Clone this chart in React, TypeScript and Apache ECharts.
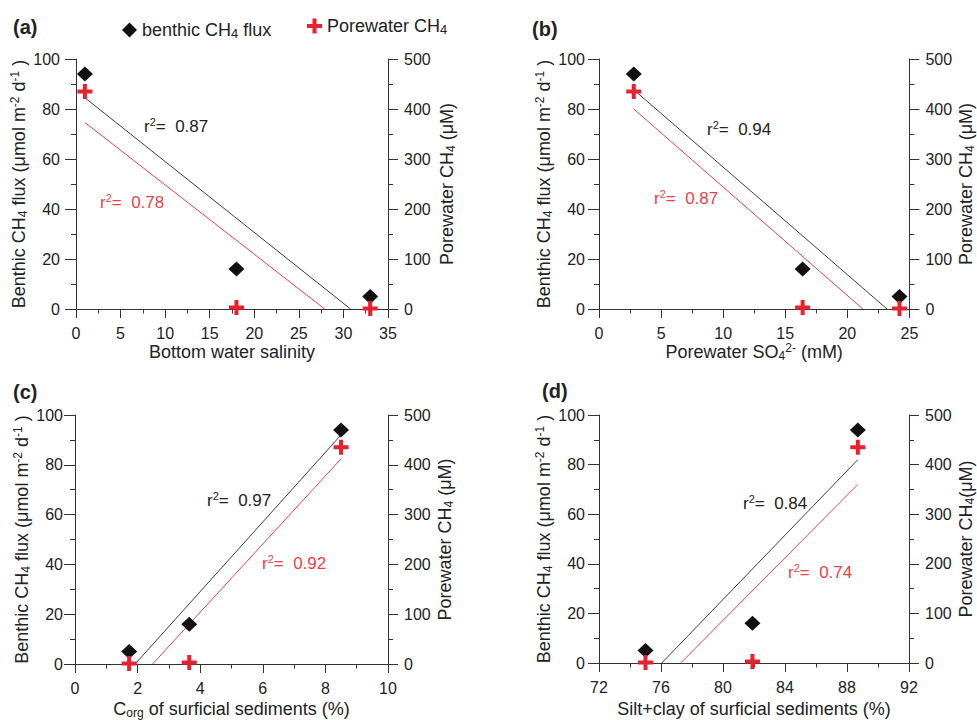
import React, { useEffect, useRef } from "react";
import * as echarts from "echarts";

// ---- data (site order: S1, S2, S3) ----
const benthicFlux = [94, 16, 5]; // µmol m-2 d-1 (left axis)
const porewaterCH4 = [435, 3, 1]; // µM (right axis)
const bottomSalinity = [1, 18, 33];
const porewaterSO4 = [2.8, 16.4, 24.2];
const corg = [8.5, 3.65, 1.73];
const siltClay = [88.7, 81.9, 75];

// regression lines (end points)
const fitFluxA = [[1, 84.5], [30.8, 0]];
const fitPwA = [[1, 373], [27.9, 0]];
const fitFluxB = [[2.8, 87.7], [23.2, 0]];
const fitPwB = [[2.8, 400], [21.25, 0]];
const fitFluxC = [[1.92, 0], [8.5, 92]];
const fitPwC = [[2.48, 0], [8.5, 412]];
const fitFluxD = [[76.05, 0], [88.7, 82]];
const fitPwD = [[77.27, 0], [88.7, 360]];

const r2Flux = ["0.87", "0.94", "0.97", "0.84"];
const r2Pw = ["0.78", "0.87", "0.92", "0.74"];
const panelLetters = ["(a)", "(b)", "(c)", "(d)"];

const xMin = [0, 0, 0, 72];
const xMax = [35, 25, 10, 92];
const xInterval = [5, 5, 2, 4];
const xNames = [
  "Bottom water salinity",
  "Porewater SO{sub|4}{sup|2-} (mM)",
  "C{sub|org} of surficial sediments (%)",
  "Silt+clay of surficial sediments (%)",
];
const rightNames = [
  "Porewater CH{sub|4} (μM)",
  "Porewater CH{sub|4} (μM)",
  "Porewater CH{sub|4} (μM)",
  "Porewater CH{sub|4}(μM)",
];
const leftName = "Benthic CH{sub|4} flux (μmol m{sup|-2} d{sup|-1} )";

const LEFT_MAX = [0, 100];
const RIGHT_MAX = [0, 500];

const PLUS = "path://M5.5,0h4v5.5h5.5v4h-5.5v5.5h-4v-5.5h-5.5v-4h5.5z";
const BLACK = "#111";
const RED = "#e82030";
const RED_LINE = "#ee3f48";
const AXIS = "#333";
const TEXT = "#222";
const FONT = '"Liberation Sans", Arial, Helvetica, sans-serif';

const xsList = [bottomSalinity, porewaterSO4, corg, siltClay];
const fitFlux = [fitFluxA, fitFluxB, fitFluxC, fitFluxD];
const fitPw = [fitPwA, fitPwB, fitPwC, fitPwD];

// layout
const grids = [
  { left: 76, top: 59, width: 312, height: 250 },
  { left: 599, top: 59, width: 313, height: 250 },
  { left: 75, top: 415, width: 313, height: 250 },
  { left: 599, top: 415, width: 313, height: 249 },
];
const leftLabelMargin = [16, 14, 12, 14];
const leftNameGap = [41, 39, 40, 39];
const rightNameGap = [49, 45, 47, 47];
const xNameGap = [33, 32, 35, 36];
const letterPos = [
  [13, 27],
  [532, 29],
  [13, 392],
  [542, 391],
];
const r2FluxPos = [
  [144, 126],
  [707, 129],
  [207, 500],
  [743, 503],
];
const r2PwPos = [
  [100, 202],
  [654, 198],
  [262, 563],
  [788, 572],
];

const rich = {
  sub: { fontSize: 12, verticalAlign: "bottom", lineHeight: 12, fontFamily: FONT, color: TEXT },
  sup: { fontSize: 12, verticalAlign: "top", lineHeight: 12, fontFamily: FONT, color: TEXT },
};
const nameStyle = { fontSize: 18, color: TEXT, fontFamily: FONT, lineHeight: 20, rich };

function makeOption() {
  const xAxis = grids.map((_, i) => ({
    gridIndex: i,
    type: "value",
    min: xMin[i],
    max: xMax[i],
    interval: xInterval[i],
    name: xNames[i],
    nameLocation: "middle",
    nameGap: xNameGap[i],
    nameTextStyle: nameStyle,
    axisLine: { onZero: false, lineStyle: { color: AXIS, width: 1 } },
    axisTick: { length: 9, lineStyle: { color: AXIS } },
    minorTick: { show: true, splitNumber: 2, length: 4.5, lineStyle: { color: AXIS } },
    axisLabel: { margin: 16, fontSize: 16, color: TEXT, fontFamily: FONT },
    splitLine: { show: false },
    minorSplitLine: { show: false },
  }));
  const yAxis: any[] = [];
  grids.forEach((_, i) => {
    yAxis.push({
      gridIndex: i,
      type: "value",
      position: "left",
      min: LEFT_MAX[0],
      max: LEFT_MAX[1],
      interval: 20,
      name: leftName,
      nameLocation: "middle",
      nameGap: leftNameGap[i],
      nameTextStyle: nameStyle,
      axisLine: { show: true, lineStyle: { color: AXIS, width: 1 } },
      axisTick: { show: true, length: 11, lineStyle: { color: AXIS } },
      minorTick: { show: true, splitNumber: 2, length: 5, lineStyle: { color: AXIS } },
      axisLabel: { margin: leftLabelMargin[i], fontSize: 16, color: TEXT, fontFamily: FONT },
      splitLine: { show: false },
    });
    yAxis.push({
      gridIndex: i,
      type: "value",
      position: "right",
      min: RIGHT_MAX[0],
      max: RIGHT_MAX[1],
      interval: 100,
      name: rightNames[i],
      nameLocation: "middle",
      nameGap: rightNameGap[i],
      nameTextStyle: nameStyle,
      axisLine: { show: true, lineStyle: { color: AXIS, width: 1 } },
      axisTick: { show: true, length: 10, lineStyle: { color: AXIS } },
      minorTick: { show: true, splitNumber: 2, length: 5, lineStyle: { color: AXIS } },
      axisLabel: { margin: 16, fontSize: 16, color: TEXT, fontFamily: FONT },
      splitLine: { show: false },
    });
  });

  const series: any[] = [];
  grids.forEach((_, i) => {
    const xs = xsList[i];
    series.push({
      type: "line",
      xAxisIndex: i,
      yAxisIndex: 2 * i,
      data: fitFlux[i],
      symbol: "none",
      lineStyle: { color: "#3c3c3c", width: 1 },
      itemStyle: { color: "#3c3c3c" },
      z: 2,
    });
    series.push({
      type: "line",
      xAxisIndex: i,
      yAxisIndex: 2 * i + 1,
      data: fitPw[i],
      symbol: "none",
      lineStyle: { color: RED_LINE, width: 1 },
      itemStyle: { color: RED_LINE },
      z: 2,
    });
    series.push({
      name: "benthic CH4 flux",
      type: "scatter",
      xAxisIndex: i,
      yAxisIndex: 2 * i,
      data: xs.map((x, k) => [x, benthicFlux[k]]),
      symbol: "diamond",
      symbolSize: [16, 15],
      itemStyle: { color: BLACK, opacity: 1 },
      clip: false,
      z: 3,
    });
    series.push({
      name: "Porewater CH4",
      type: "scatter",
      xAxisIndex: i,
      yAxisIndex: 2 * i + 1,
      data: xs.map((x, k) => [x, porewaterCH4[k]]),
      symbol: PLUS,
      symbolSize: 15,
      itemStyle: { color: RED, opacity: 1 },
      clip: false,
      z: 4,
    });
  });

  const legendText = {
    fontSize: 18,
    color: TEXT,
    fontFamily: FONT,
    lineHeight: 20,
    rich: { sub: { fontSize: 13, verticalAlign: "bottom", lineHeight: 12, color: TEXT, fontFamily: FONT } },
  };
  const legendFmt = (n: string) =>
    n === "benthic CH4 flux" ? "benthic CH{sub|4} flux" : "Porewater CH{sub|4}";

  const graphic: any[] = [];
  grids.forEach((_, i) => {
    graphic.push({
      type: "text",
      x: letterPos[i][0],
      y: letterPos[i][1],
      style: {
        text: panelLetters[i],
        font: `bold 20px ${FONT}`,
        fill: TEXT,
        verticalAlign: "middle",
      },
    });
    graphic.push({
      type: "text",
      x: r2FluxPos[i][0],
      y: r2FluxPos[i][1],
      style: {
        text: `r{s|2}=  ${r2Flux[i]}`,
        font: `17px ${FONT}`,
        fill: TEXT,
        verticalAlign: "middle",
        lineHeight: 20,
        rich: { s: { fontSize: 11, verticalAlign: "top", lineHeight: 12, fill: TEXT, fontFamily: FONT } },
      },
    });
    graphic.push({
      type: "text",
      x: r2PwPos[i][0],
      y: r2PwPos[i][1],
      style: {
        text: `r{s|2}=  ${r2Pw[i]}`,
        font: `17px ${FONT}`,
        fill: RED_LINE,
        verticalAlign: "middle",
        lineHeight: 20,
        rich: { s: { fontSize: 11, verticalAlign: "top", lineHeight: 12, fill: RED_LINE, fontFamily: FONT } },
      },
    });
  });

  return {
    animation: false,
    backgroundColor: "#fff",
    textStyle: { fontFamily: FONT },
    grid: grids,
    legend: [
      {
        data: ["benthic CH4 flux"],
        left: 117,
        top: 15,
        itemWidth: 15,
        itemHeight: 15,
        selectedMode: false,
        formatter: legendFmt,
        textStyle: legendText,
      },
      {
        data: ["Porewater CH4"],
        left: 302,
        top: 11,
        itemWidth: 15,
        itemHeight: 15,
        selectedMode: false,
        formatter: legendFmt,
        textStyle: legendText,
      },
    ],
    xAxis,
    yAxis,
    series,
    graphic,
  };
}

export default function App() {
  const ref = useRef<HTMLDivElement>(null);
  useEffect(() => {
    if (!ref.current) return;
    const chart = echarts.init(ref.current, undefined, { renderer: "svg" });
    chart.setOption(makeOption() as any);
    return () => chart.dispose();
  }, []);
  return (
    <div
      ref={ref}
      style={{ width: 977, height: 720, position: "absolute", left: 0, top: 0, background: "#fff" }}
    />
  );
}
